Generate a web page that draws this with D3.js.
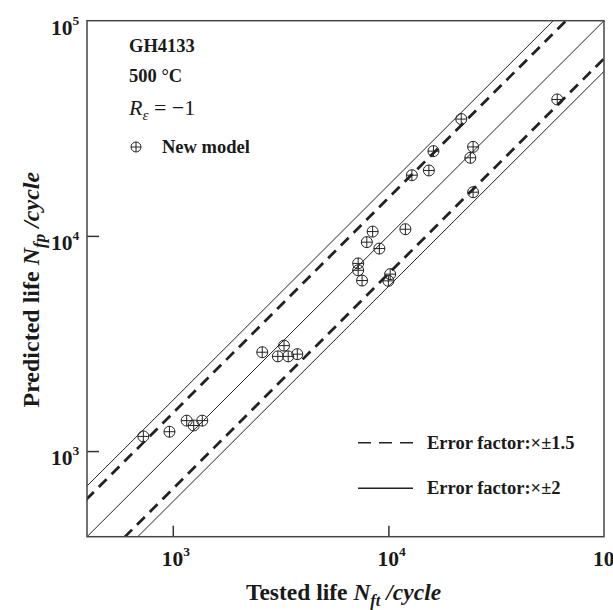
<!DOCTYPE html>
<html>
<head>
<meta charset="utf-8">
<title>GH4133 predicted vs tested life</title>
<script src="https://d3js.org/d3.v7.min.js"></script>
<style>
  body { margin: 0; background: #fff; }
  text { font-family: "Liberation Serif", "Times New Roman", serif; fill: #1a1a1a; }
</style>
</head>
<body>
<div id="chart"></div>
<script>
// Tested vs predicted fatigue life (cycles)
const tested = [730, 965, 1160, 1250, 1370,
  2600, 3280, 3070, 3430, 3780,
  8450, 7940, 9080, 11990, 7240, 7240, 7550, 10190, 10000,
  21770, 16180, 15410, 12850, 24710, 23990, 24710, 60700];
const predicted = [1170, 1230, 1385, 1315, 1385,
  2880, 3090, 2755, 2755, 2820,
  10470, 9350, 8730, 10740, 7450, 6920, 6200, 6640, 6180,
  34900, 24760, 20140, 19140, 25920, 23060, 15960, 43050];

// error band factors as drawn
const dashedFactor = 1.5;
const solidFactor = 1.72;
const legendLabels = ["Error factor:\u00d7\u00b11.5", "Error factor:\u00d7\u00b12"];

// axis ticks (exponents)
const tickExps = [3, 4, 5];
const domain = [400, 1e5];

const W = 613, H = 610;
const mLeft = 87, mRight = 604, mTop = 20.7, mBottom = 536.7;

const svg = d3.select("#chart").append("svg")
  .attr("width", W).attr("height", H);

const x = d3.scaleLog().domain(domain).range([mLeft, mRight]);
const y = d3.scaleLog().domain(domain).range([mBottom, mTop]);

svg.append("clipPath").attr("id", "clip")
  .append("rect")
  .attr("x", mLeft).attr("y", mTop)
  .attr("width", mRight - mLeft).attr("height", mBottom - mTop);

// reference lines
const lines = [
  { k: 1, dash: false },
  { k: solidFactor, dash: false },
  { k: 1 / solidFactor, dash: false },
  { k: dashedFactor, dash: true },
  { k: 1 / dashedFactor, dash: true }
];
const line = d3.line().x(d => x(d[0])).y(d => y(d[1]));
svg.append("g").attr("clip-path", "url(#clip)")
  .selectAll("path")
  .data(lines)
  .enter()
  .append("path")
  .attr("d", d => line([[domain[0] / 3, domain[0] / 3 * d.k], [domain[1] * 3, domain[1] * 3 * d.k]]))
  .attr("fill", "none")
  .attr("stroke", "#222")
  .attr("stroke-width", d => d.dash ? 2.8 : 1)
  .attr("stroke-dasharray", d => d.dash ? "11,7" : null);

// axes (inner ticks)
svg.append("g")
  .attr("transform", `translate(0,${mBottom})`)
  .call(d3.axisBottom(x).tickValues([1e3, 1e4]).tickSize(-11).tickFormat(""));
svg.append("g")
  .attr("transform", `translate(${mLeft},0)`)
  .call(d3.axisLeft(y).tickValues([1e3, 1e4]).tickSize(-12).tickFormat(""));
svg.selectAll(".domain").remove();
svg.selectAll(".tick line").attr("stroke", "#333").attr("stroke-width", 1.5);

// frame
svg.append("rect")
  .attr("x", mLeft).attr("y", mTop)
  .attr("width", mRight - mLeft).attr("height", mBottom - mTop)
  .attr("fill", "none").attr("stroke", "#444").attr("stroke-width", 1.5);

// tick labels 10^n
function powLabel(g, e) {
  g.append("tspan").text("10");
  g.append("tspan").attr("dy", -10).attr("font-size", 13.5).text(e);
}
svg.append("g").selectAll("text")
  .data(tickExps)
  .enter()
  .append("text")
  .attr("x", d => x(Math.pow(10, d)) - 11)
  .attr("y", mBottom + 29)
  .attr("font-size", 21.5).attr("font-weight", "bold")
  .each(function(d) { powLabel(d3.select(this), d); });
svg.append("g").selectAll("text")
  .data(tickExps)
  .enter()
  .append("text")
  .attr("x", 51)
  .attr("y", d => y(Math.pow(10, d)) + 14)
  .attr("font-size", 21.5).attr("font-weight", "bold")
  .each(function(d) { powLabel(d3.select(this), d); });

// axis titles
const xt = svg.append("text")
  .attr("x", (mLeft + mRight) / 2 - 2).attr("y", 600)
  .attr("text-anchor", "middle")
  .attr("font-size", 23.5).attr("font-weight", "bold");
xt.append("tspan").text("Tested life ");
xt.append("tspan").attr("font-style", "italic").text("N");
xt.append("tspan").attr("font-style", "italic").attr("font-size", 16.5).attr("dy", 6).text("ft");
xt.append("tspan").attr("font-style", "italic").attr("dy", -6).text(" /cycle");

const yt = svg.append("text")
  .attr("transform", `translate(39,${(mTop + mBottom) / 2 + 11}) rotate(-90)`)
  .attr("text-anchor", "middle")
  .attr("font-size", 24).attr("font-weight", "bold");
yt.append("tspan").text("Predicted life ");
yt.append("tspan").attr("font-style", "italic").text("N");
yt.append("tspan").attr("font-style", "italic").attr("font-size", 17).attr("dy", 6).text("fp");
yt.append("tspan").attr("font-style", "italic").attr("dy", -6).text(" /cycle");

// markers: circle with plus
function marker(g, r) {
  g.append("circle").attr("r", r);
  g.append("line").attr("x1", -r).attr("x2", r);
  g.append("line").attr("y1", -r).attr("y2", r);
  g.selectAll("circle, line").attr("fill", "none").attr("stroke", "#222").attr("stroke-width", 1);
}
svg.append("g").selectAll("g")
  .data(tested)
  .enter()
  .append("g")
  .attr("transform", (d, i) => `translate(${x(d)},${y(predicted[i])})`)
  .each(function() { marker(d3.select(this), 5.5); });

// top-left notes
svg.append("text").attr("x", 129).attr("y", 52)
  .attr("font-size", 18.5).attr("font-weight", "bold").text("GH4133");
svg.append("text").attr("x", 129).attr("y", 82)
  .attr("font-size", 18.5).attr("font-weight", "bold").text("500 \u00b0C");
const rt = svg.append("text").attr("x", 129).attr("y", 115).attr("font-size", 22);
rt.append("tspan").attr("font-style", "italic").text("R");
rt.append("tspan").attr("font-style", "italic").attr("font-size", 15).attr("dy", 5).text("\u03b5");
rt.append("tspan").attr("dy", -5).text(" = \u22121");
marker(svg.append("g").attr("transform", "translate(136,147)"), 5);
svg.append("text").attr("x", 162).attr("y", 153)
  .attr("font-size", 18.5).attr("font-weight", "bold").text("New model");

// error factor legend
const leg = svg.append("g");
[442.7, 488.3].forEach((ly, i) => {
  leg.append("line")
    .attr("x1", 358).attr("x2", 413).attr("y1", ly).attr("y2", ly)
    .attr("stroke", "#222").attr("stroke-width", 1.5)
    .attr("stroke-dasharray", i === 0 ? "13,8" : null);
  leg.append("text").attr("x", 427).attr("y", ly + 6)
    .attr("font-size", 18.5).attr("font-weight", "bold").text(legendLabels[i]);
});
</script>
</body>
</html>
